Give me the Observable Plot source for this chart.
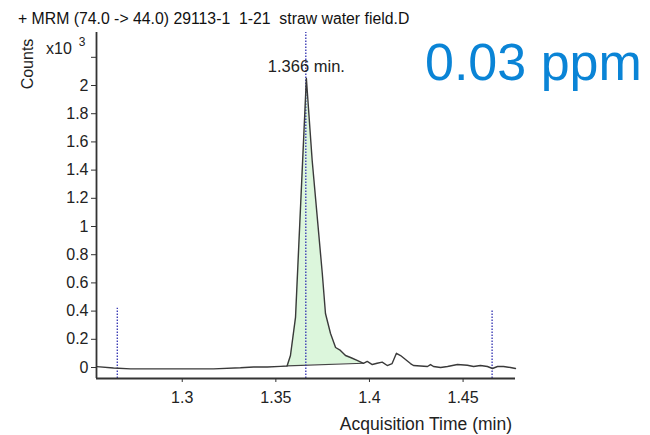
<!DOCTYPE html>
<html><head><meta charset="utf-8">
<script src="https://cdn.jsdelivr.net/npm/d3@7"></script>
<script src="https://cdn.jsdelivr.net/npm/@observablehq/plot@0.6"></script>
<style>body{margin:0;background:#fff;} #chart{width:650px;height:435px;}</style>
</head><body><div id="chart"></div>
<script>
// Acquisition time (min)
const time = [1.2544,1.2633,1.2724,1.2991,1.3167,1.3311,1.3381,1.3455,1.3525,1.3560,1.3578,1.3605,1.3663,1.3694,1.3748,1.3765,1.3792,1.3819,1.3845,1.3872,1.3899,1.3934,1.3968,1.3988,1.4015,1.4041,1.4068,1.4095,1.4121,1.4144,1.4166,1.4219,1.4235,1.4310,1.4326,1.4342,1.4380,1.4417,1.4470,1.4523,1.4556,1.4593,1.4630,1.4657,1.4684,1.4716,1.4753,1.478];
// Counts (x10^3)
const counts = [0.006,-0.004,-0.010,-0.010,-0.010,-0.002,0.004,0.004,0.008,0.011,0.085,0.355,2.05,1.468,0.667,0.383,0.241,0.142,0.121,0.085,0.071,0.050,0.030,0.043,0.021,0.030,0.038,0.014,0.028,0.101,0.085,0.028,0.014,0.007,0.021,0.007,0,0.007,0.021,0.016,0.007,0.014,0.007,-0.007,0.007,0.007,0,-0.007];
// Integration window (start/end of peak baseline)
const peakStart = [1.3560, 0.011];
const peakEnd = [1.3968, 0.030];
// Dotted markers: time and top
const markerTime = [1.2653, 1.366, 1.4655];
const markerTop = [0.42, 2.376, 0.40];
const xTicks = [1.3, 1.35, 1.4, 1.45];
const yTicks = [0, 0.2, 0.4, 0.6, 0.8, 1, 1.2, 1.4, 1.6, 1.8, 2, 2.2];
const peakLabel = "1.366 min.";
const title = "+ MRM (74.0 -> 44.0) 29113-1  1-21  straw water field.D";
const concLabel = "0.03 ppm";

const xDomain = [1.2542, 1.478];
const yDomain = [-0.078, 2.376];

const data = time.map((t, i) => ({t, c: counts[i]}));
const base = t => peakStart[1] + (t - peakStart[0]) / (peakEnd[0] - peakStart[0]) * (peakEnd[1] - peakStart[1]);
const peak = data.filter(d => d.t >= peakStart[0] && d.t <= peakEnd[0]).map(d => ({t: d.t, c: d.c, b: base(d.t)}));
const markers = markerTime.map((t, i) => ({t, top: markerTop[i]}));

const axisColor = "#333";
const plot = Plot.plot({
  width: 650, height: 435,
  marginLeft: 96, marginRight: 135, marginTop: 32, marginBottom: 57,
  style: {fontFamily: "'Liberation Sans', Arial, sans-serif", fontSize: "15px", color: "#222", background: "#fff"},
  x: {domain: xDomain},
  y: {domain: yDomain},
  marks: [
    Plot.areaY(peak, {x: "t", y1: "b", y2: "c", fill: "#dcf6dc", curve: "linear"}),
    Plot.line([peakStart, peakEnd], {x: d => d[0], y: d => d[1], stroke: "#444", strokeWidth: 1.2}),
    Plot.ruleX(markers, {x: "t", y1: yDomain[0], y2: "top", stroke: "#3030b0", strokeWidth: 1.3, strokeDasharray: "1.5,1.5"}),
    Plot.line(data, {x: "t", y: "c", stroke: "#3a3a3a", strokeWidth: 1.4}),
    Plot.ruleX([xDomain[0]], {stroke: axisColor, strokeWidth: 1.8}),
    Plot.ruleY([yDomain[0]], {stroke: axisColor, strokeWidth: 1.8}),
    Plot.axisY({ticks: yTicks, tickFormat: d => d === 2.2 ? "" : d3.format("~g")(d), tickSize: 5, tickPadding: 3, stroke: axisColor, fontSize: 16, label: null}),
    Plot.axisX({ticks: xTicks, tickFormat: d3.format("~g"), tickSize: 4, tickPadding: 9, stroke: axisColor, fontSize: 16, label: null}),
    Plot.text([{t: time[counts.indexOf(d3.max(counts))], c: d3.max(counts)}], {x: "t", y: "c", text: () => peakLabel, dy: -12, fontSize: 16.5, fill: "#222"})
  ]
});
document.getElementById("chart").appendChild(plot);
const svg = d3.select(plot);
const font = "'Liberation Sans', Arial, sans-serif";
svg.append("text").attr("x", 18).attr("y", 24).attr("text-anchor", "start").attr("font-family", font).attr("font-size", 15.8).attr("fill", "#111").attr("xml:space", "preserve").style("white-space", "pre").text(title);
svg.append("text").attr("x", 425).attr("y", 80).attr("text-anchor", "start").attr("font-family", font).attr("font-size", 52).attr("fill", "#0a84d6").text(concLabel);
svg.append("text").attr("transform", "translate(33,64) rotate(-90)").attr("text-anchor", "middle").attr("font-family", font).attr("font-size", 16).attr("fill", "#222").text("Counts");
const x10 = svg.append("text").attr("x", 46).attr("y", 54).attr("text-anchor", "start").attr("font-family", font).attr("font-size", 16).attr("fill", "#222");
x10.append("tspan").text("x10");
x10.append("tspan").attr("dx", 7).attr("dy", -8).attr("font-size", 12).text("3");
svg.append("text").attr("x", 512).attr("y", 430).attr("text-anchor", "end").attr("font-family", font).attr("font-size", 17.5).attr("fill", "#222").text("Acquisition Time (min)");
</script>
</body></html>
